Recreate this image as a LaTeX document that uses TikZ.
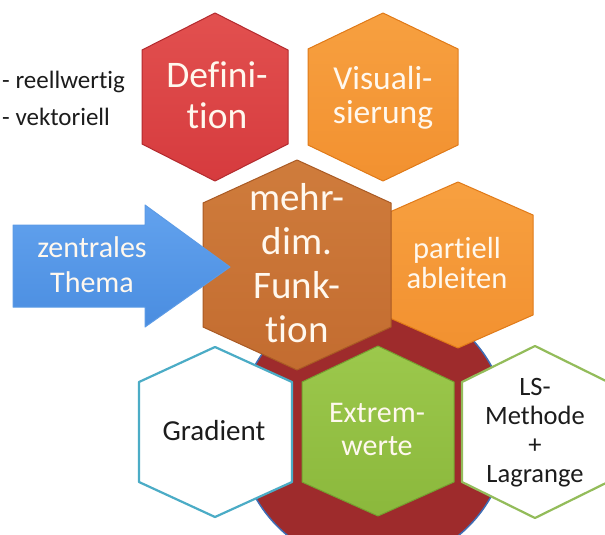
\documentclass[tikz,border=0pt]{standalone}
\usepackage{fontspec}
\setmainfont{Carlito}[Ligatures=NoCommon]
\definecolor{defred}{HTML}{D63B3E}
\definecolor{defredtop}{HTML}{E2504F}
\definecolor{defredline}{HTML}{B32A2E}
\definecolor{orng}{HTML}{F29130}
\definecolor{orngtop}{HTML}{F7A040}
\definecolor{orngline}{HTML}{E07A18}
\definecolor{brwn}{HTML}{C36C30}
\definecolor{brwntop}{HTML}{CF7C3C}
\definecolor{brwnline}{HTML}{A95A24}
\definecolor{grn}{HTML}{8BB83C}
\definecolor{grntop}{HTML}{9CC84C}
\definecolor{grnline}{HTML}{76A030}
\definecolor{darkred}{HTML}{9E2B2C}
\definecolor{circblue}{HTML}{3E6DB5}
\definecolor{teal}{HTML}{4BACC6}
\definecolor{lsgreen}{HTML}{93BC5A}
\definecolor{arrblue}{HTML}{4A8DE0}
\definecolor{arrbluetop}{HTML}{62A2EE}
\definecolor{arrline}{HTML}{5C9BE6}
\definecolor{txtcream}{HTML}{FFF8EE}
\definecolor{txtdark}{HTML}{1C1C1C}
\begin{document}
\begin{tikzpicture}[x=1pt,y=-1pt,line join=round,
  hexred/.style={top color=defredtop,bottom color=defred,draw=defredline,line width=1pt},
  hexorange/.style={top color=orngtop,bottom color=orng,draw=orngline,line width=1pt},
  hexbrown/.style={top color=brwntop,bottom color=brwn,draw=brwnline,line width=1pt},
  hexgreen/.style={top color=grntop,bottom color=grn,draw=grnline,line width=1pt},
  hexwhiteteal/.style={fill=white,draw=teal,line width=2.2pt},
  hexwhitegreen/.style={fill=white,draw=lsgreen,line width=2.2pt},
  arrowshape/.style={top color=arrbluetop,bottom color=arrblue,draw=arrline,line width=1pt},
  wtext/.style={text=txtcream,align=center,inner sep=0pt,anchor=base},
  dtext/.style={text=txtdark,align=center,inner sep=0pt,anchor=base}]
\clip (0,0) rectangle (605,535);
\fill[white] (0,0) rectangle (605,535);
% background circle
\filldraw[fill=darkred,draw=circblue,line width=1.5pt] (373,431) circle[radius=135];
% top hexagons
\path[hexred] (215,13) -- (288,50) -- (288,144) -- (215,181) -- (142,144) -- (142,50) -- cycle;
\path[hexorange] (383,13) -- (458,49) -- (458,145) -- (383,181) -- (308,145) -- (308,49) -- cycle;
% partiell ableiten
\path[hexorange] (458,182) -- (533,215) -- (533,315) -- (458,348) -- (383,315) -- (383,215) -- cycle;
% central
\path[hexbrown] (297,160) -- (391,203) -- (391,327) -- (297,370) -- (203,327) -- (203,203) -- cycle;
% bottom row
\path[hexwhiteteal] (215,347) -- (292,382) -- (292,482) -- (215,517) -- (139,482) -- (139,382) -- cycle;
\path[hexgreen] (378,346) -- (454,382) -- (454,482) -- (378,516) -- (302,482) -- (302,382) -- cycle;
\path[hexwhitegreen] (535,346) -- (608,382) -- (608,482) -- (535,518) -- (462,482) -- (462,382) -- cycle;
% arrow
\path[arrowshape] (13,225) -- (145,225) -- (145,205) -- (230,267) -- (145,327) -- (145,307) -- (13,307) -- cycle;
% texts (base anchor = baseline of the last line)
\node[wtext,font=\fontsize{37.5}{40}\selectfont] (def) at (217,128) {Defini-\\tion};
\node[wtext,font=\fontsize{33.5}{34}\selectfont] (vis) at (383,123) {Visuali-\\sierung};
\node[wtext,font=\fontsize{39}{44}\selectfont] (fun) at (297,342) {mehr-\\dim.\\Funk-\\tion};
\node[wtext,font=\fontsize{30.5}{29.5}\selectfont] (par) at (457,288) {partiell\\ableiten};
\node[wtext,font=\fontsize{30}{35}\selectfont] (zen) at (92,292) {zentrales\\Thema};
\node[dtext,font=\fontsize{29}{30}\selectfont] (gra) at (214,440) {Gradient};
\node[wtext,font=\fontsize{30}{33}\selectfont] (ext) at (377,455) {Extrem-\\werte};
\node[dtext,font=\fontsize{26.5}{29}\selectfont] (ls) at (535,482) {LS-\\Methode\\+\\Lagrange};
\node[dtext,font=\fontsize{25}{37}\selectfont,align=left,anchor=base west] (list) at (2,125) {- reellwertig\\- vektoriell};
\end{tikzpicture}
\end{document}
